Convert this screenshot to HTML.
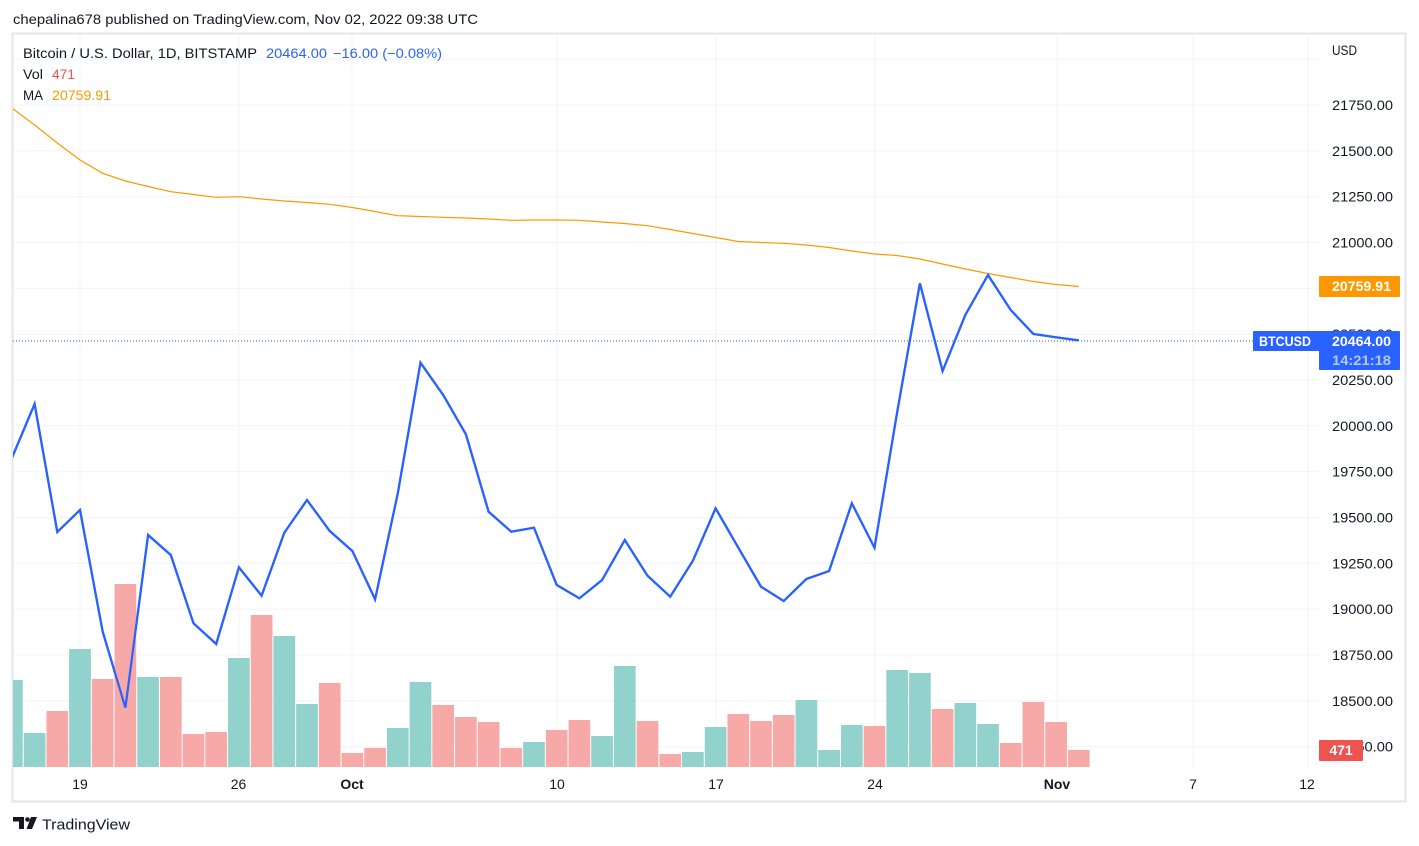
<!DOCTYPE html>
<html><head><meta charset="utf-8"><style>
html,body{margin:0;padding:0;background:#fff;}
svg{display:block;font-family:"Liberation Sans",Arial,sans-serif;}
</style></head><body>
<svg width="1419" height="846" viewBox="0 0 1419 846" xmlns="http://www.w3.org/2000/svg">
<rect x="0" y="0" width="1419" height="846" fill="#fff"/>
<text x="13" y="24" font-size="14" fill="#131722" textLength="465" lengthAdjust="spacingAndGlyphs">chepalina678 published on TradingView.com, Nov 02, 2022 09:38 UTC</text>
<rect x="12.5" y="33.5" width="1393" height="768" fill="#fff" stroke="#e4e6ed" stroke-width="2"/>
<defs><clipPath id="pane"><rect x="13" y="34" width="1305" height="733"/></clipPath></defs>
<g stroke="#f0f3fa" stroke-width="1">
<line x1="13" y1="59.2" x2="1318" y2="59.2"/>
<line x1="13" y1="105" x2="1318" y2="105"/>
<line x1="13" y1="150.8" x2="1318" y2="150.8"/>
<line x1="13" y1="196.7" x2="1318" y2="196.7"/>
<line x1="13" y1="242.5" x2="1318" y2="242.5"/>
<line x1="13" y1="288.3" x2="1318" y2="288.3"/>
<line x1="13" y1="334.2" x2="1318" y2="334.2"/>
<line x1="13" y1="380" x2="1318" y2="380"/>
<line x1="13" y1="425.8" x2="1318" y2="425.8"/>
<line x1="13" y1="471.7" x2="1318" y2="471.7"/>
<line x1="13" y1="517.5" x2="1318" y2="517.5"/>
<line x1="13" y1="563.3" x2="1318" y2="563.3"/>
<line x1="13" y1="609.2" x2="1318" y2="609.2"/>
<line x1="13" y1="655" x2="1318" y2="655"/>
<line x1="13" y1="700.8" x2="1318" y2="700.8"/>
<line x1="13" y1="746.7" x2="1318" y2="746.7"/>
<line x1="80" y1="34" x2="80" y2="767"/>
<line x1="239" y1="34" x2="239" y2="767"/>
<line x1="352" y1="34" x2="352" y2="767"/>
<line x1="557" y1="34" x2="557" y2="767"/>
<line x1="716" y1="34" x2="716" y2="767"/>
<line x1="875" y1="34" x2="875" y2="767"/>
<line x1="1057" y1="34" x2="1057" y2="767"/>
<line x1="1193" y1="34" x2="1193" y2="767"/>
<line x1="1308" y1="34" x2="1308" y2="767"/>
</g>
<g clip-path="url(#pane)" id="vol"></g>
<g clip-path="url(#pane)">
<line x1="13" y1="341" x2="1253" y2="341" stroke="#2962ff" stroke-width="1" stroke-dasharray="1 2"/>
<polyline fill="none" stroke="#ff9800" stroke-width="1.2" stroke-linejoin="round" points="11.9,108 34.6,125 57.3,143 80,160 102.7,173.3 125.4,181 148.1,186.5 170.8,191.7 193.5,194.5 216.2,197.3 238.9,196.7 261.6,199 284.3,201 307,202.5 329.7,204.3 352.4,207.5 375.1,211.5 397.8,215.7 420.5,216.5 443.2,217.3 465.9,218 488.6,219 511.3,220.3 534,220 556.7,220 579.4,220.3 602.1,222 624.8,223.5 647.5,225.7 670.2,229.5 692.9,233.5 715.6,237.5 738.3,241.5 761,242.5 783.7,243.3 806.4,245 829.1,247.5 851.8,251 874.5,254 897.2,255.5 919.9,259 942.6,264 965.3,269 988,273.5 1010.7,277.5 1033.4,281.5 1056.1,284.5 1078.8,286.5"/>
<polyline fill="none" stroke="#2962ff" stroke-width="2.2" stroke-linejoin="miter" points="11.9,458 34.6,404 57.3,532 80,510 102.7,631.7 125.4,707.7 148.1,535 170.8,555 193.5,623.3 216.2,644 238.9,567.3 261.6,595.7 284.3,532.7 307,500 329.7,531 352.4,551 375.1,599.3 397.8,493.3 420.5,362.7 443.2,395 465.9,434.3 488.6,511.7 511.3,531.7 534,527.7 556.7,585 579.4,598.3 602.1,580 624.8,540 647.5,575.7 670.2,596.7 692.9,560.7 715.6,508.3 738.3,547.7 761,586.7 783.7,601 806.4,579 829.1,571 851.8,503.3 874.5,547.7 897.2,412 919.9,283.3 942.6,371 965.3,315 988,275 1010.7,310 1033.4,334 1056.1,337.3 1078.8,340.3"/>
</g>
<g font-size="13.5" fill="#131722">
<text x="23" y="58" textLength="234" lengthAdjust="spacingAndGlyphs">Bitcoin / U.S. Dollar, 1D, BITSTAMP</text>
<text x="266" y="58" fill="#2962ff" textLength="61" lengthAdjust="spacingAndGlyphs">20464.00</text>
<text x="333" y="58" fill="#2962ff" textLength="109" lengthAdjust="spacingAndGlyphs">−16.00 (−0.08%)</text>
<text x="23" y="79" textLength="20" lengthAdjust="spacingAndGlyphs">Vol</text>
<text x="52" y="79" fill="#ef5350" textLength="23" lengthAdjust="spacingAndGlyphs">471</text>
<text x="23" y="100" textLength="20" lengthAdjust="spacingAndGlyphs">MA</text>
<text x="52" y="100" fill="#ff9800" textLength="59" lengthAdjust="spacingAndGlyphs">20759.91</text>
</g>
<g font-size="14" fill="#131722" text-anchor="end">
<text x="1357" y="55" textLength="25" lengthAdjust="spacingAndGlyphs">USD</text>
<text x="1393" y="110" textLength="61" lengthAdjust="spacingAndGlyphs">21750.00</text>
<text x="1393" y="155.8" textLength="61" lengthAdjust="spacingAndGlyphs">21500.00</text>
<text x="1393" y="201.7" textLength="61" lengthAdjust="spacingAndGlyphs">21250.00</text>
<text x="1393" y="247.5" textLength="61" lengthAdjust="spacingAndGlyphs">21000.00</text>
<text x="1393" y="339.2" textLength="61" lengthAdjust="spacingAndGlyphs">20500.00</text>
<text x="1393" y="385" textLength="61" lengthAdjust="spacingAndGlyphs">20250.00</text>
<text x="1393" y="430.8" textLength="61" lengthAdjust="spacingAndGlyphs">20000.00</text>
<text x="1393" y="476.7" textLength="61" lengthAdjust="spacingAndGlyphs">19750.00</text>
<text x="1393" y="522.5" textLength="61" lengthAdjust="spacingAndGlyphs">19500.00</text>
<text x="1393" y="568.3" textLength="61" lengthAdjust="spacingAndGlyphs">19250.00</text>
<text x="1393" y="614.2" textLength="61" lengthAdjust="spacingAndGlyphs">19000.00</text>
<text x="1393" y="660" textLength="61" lengthAdjust="spacingAndGlyphs">18750.00</text>
<text x="1393" y="705.8" textLength="61" lengthAdjust="spacingAndGlyphs">18500.00</text>
<text x="1393" y="751.7" textLength="61" lengthAdjust="spacingAndGlyphs">18250.00</text>
</g>
<rect x="1319" y="276" width="81" height="21" rx="1" fill="#ff9800"/>
<text x="1391" y="291" font-size="14" font-weight="bold" fill="#fff" text-anchor="end" textLength="59" lengthAdjust="spacingAndGlyphs">20759.91</text>
<rect x="1253" y="331" width="70" height="20" rx="1" fill="#2962ff"/>
<rect x="1319" y="331" width="81" height="39" rx="1" fill="#2962ff"/>
<text x="1259" y="346" font-size="14" font-weight="bold" fill="#fff" textLength="52" lengthAdjust="spacingAndGlyphs">BTCUSD</text>
<text x="1391" y="346" font-size="14" font-weight="bold" fill="#fff" text-anchor="end" textLength="59" lengthAdjust="spacingAndGlyphs">20464.00</text>
<text x="1391" y="365" font-size="14" font-weight="bold" fill="#b4c8ff" text-anchor="end" textLength="59" lengthAdjust="spacingAndGlyphs">14:21:18</text>
<rect x="1319" y="740" width="44" height="21" rx="1" fill="#ef5350"/>
<text x="1341" y="755" font-size="14" font-weight="bold" fill="#fff" text-anchor="middle">471</text>
<g font-size="14" fill="#131722" text-anchor="middle">
<text x="80" y="789">19</text>
<text x="238.5" y="789">26</text>
<text x="352" y="789" font-weight="bold">Oct</text>
<text x="557" y="789">10</text>
<text x="716" y="789">17</text>
<text x="875" y="789">24</text>
<text x="1057" y="789" font-weight="bold">Nov</text>
<text x="1193" y="789">7</text>
<text x="1307" y="789">12</text>
</g>
<g fill="#131722">
<path d="M13 817 H24 V829 H19 V821.5 H13 Z"/>
<circle cx="27.5" cy="819.5" r="2.3"/>
<path d="M31 817 H37 L32 829 H26.5 Z"/>
</g>
<text x="42" y="829.5" font-size="15" fill="#131722" textLength="88" lengthAdjust="spacingAndGlyphs">TradingView</text>
<g clip-path="url(#pane)">
<rect x="1.05" y="680" width="21.7" height="87" fill="#92d2cc"/>
<rect x="23.75" y="733" width="21.7" height="34" fill="#92d2cc"/>
<rect x="46.45" y="711" width="21.7" height="56" fill="#f7a9a7"/>
<rect x="69.15" y="649" width="21.7" height="118" fill="#92d2cc"/>
<rect x="91.85" y="679" width="21.7" height="88" fill="#f7a9a7"/>
<rect x="114.55" y="584" width="21.7" height="183" fill="#f7a9a7"/>
<rect x="137.25" y="677" width="21.7" height="90" fill="#92d2cc"/>
<rect x="159.95" y="677" width="21.7" height="90" fill="#f7a9a7"/>
<rect x="182.65" y="734" width="21.7" height="33" fill="#f7a9a7"/>
<rect x="205.35" y="732" width="21.7" height="35" fill="#f7a9a7"/>
<rect x="228.05" y="658" width="21.7" height="109" fill="#92d2cc"/>
<rect x="250.75" y="615" width="21.7" height="152" fill="#f7a9a7"/>
<rect x="273.45" y="636" width="21.7" height="131" fill="#92d2cc"/>
<rect x="296.15" y="704" width="21.7" height="63" fill="#92d2cc"/>
<rect x="318.85" y="683" width="21.7" height="84" fill="#f7a9a7"/>
<rect x="341.55" y="753" width="21.7" height="14" fill="#f7a9a7"/>
<rect x="364.25" y="748" width="21.7" height="19" fill="#f7a9a7"/>
<rect x="386.95" y="728" width="21.7" height="39" fill="#92d2cc"/>
<rect x="409.65" y="682" width="21.7" height="85" fill="#92d2cc"/>
<rect x="432.35" y="705" width="21.7" height="62" fill="#f7a9a7"/>
<rect x="455.05" y="717" width="21.7" height="50" fill="#f7a9a7"/>
<rect x="477.75" y="722" width="21.7" height="45" fill="#f7a9a7"/>
<rect x="500.45" y="748" width="21.7" height="19" fill="#f7a9a7"/>
<rect x="523.15" y="742" width="21.7" height="25" fill="#92d2cc"/>
<rect x="545.85" y="730" width="21.7" height="37" fill="#f7a9a7"/>
<rect x="568.55" y="720" width="21.7" height="47" fill="#f7a9a7"/>
<rect x="591.25" y="736" width="21.7" height="31" fill="#92d2cc"/>
<rect x="613.95" y="666" width="21.7" height="101" fill="#92d2cc"/>
<rect x="636.65" y="721" width="21.7" height="46" fill="#f7a9a7"/>
<rect x="659.35" y="754" width="21.7" height="13" fill="#f7a9a7"/>
<rect x="682.05" y="752" width="21.7" height="15" fill="#92d2cc"/>
<rect x="704.75" y="727" width="21.7" height="40" fill="#92d2cc"/>
<rect x="727.45" y="714" width="21.7" height="53" fill="#f7a9a7"/>
<rect x="750.15" y="721" width="21.7" height="46" fill="#f7a9a7"/>
<rect x="772.85" y="715" width="21.7" height="52" fill="#f7a9a7"/>
<rect x="795.55" y="700" width="21.7" height="67" fill="#92d2cc"/>
<rect x="818.25" y="750" width="21.7" height="17" fill="#92d2cc"/>
<rect x="840.95" y="725" width="21.7" height="42" fill="#92d2cc"/>
<rect x="863.65" y="726" width="21.7" height="41" fill="#f7a9a7"/>
<rect x="886.35" y="670" width="21.7" height="97" fill="#92d2cc"/>
<rect x="909.05" y="673" width="21.7" height="94" fill="#92d2cc"/>
<rect x="931.75" y="709" width="21.7" height="58" fill="#f7a9a7"/>
<rect x="954.45" y="703" width="21.7" height="64" fill="#92d2cc"/>
<rect x="977.15" y="724" width="21.7" height="43" fill="#92d2cc"/>
<rect x="999.85" y="743" width="21.7" height="24" fill="#f7a9a7"/>
<rect x="1022.55" y="702" width="21.7" height="65" fill="#f7a9a7"/>
<rect x="1045.25" y="722" width="21.7" height="45" fill="#f7a9a7"/>
<rect x="1067.95" y="750" width="21.7" height="17" fill="#f7a9a7"/>
</g>
<g clip-path="url(#pane)">
<polyline fill="none" stroke="#2962ff" stroke-width="2.2" stroke-linejoin="miter" points="11.9,458 34.6,404 57.3,532 80,510 102.7,631.7 125.4,707.7 148.1,535 170.8,555 193.5,623.3 216.2,644 238.9,567.3 261.6,595.7 284.3,532.7 307,500 329.7,531 352.4,551 375.1,599.3 397.8,493.3 420.5,362.7 443.2,395 465.9,434.3 488.6,511.7 511.3,531.7 534,527.7 556.7,585 579.4,598.3 602.1,580 624.8,540 647.5,575.7 670.2,596.7 692.9,560.7 715.6,508.3 738.3,547.7 761,586.7 783.7,601 806.4,579 829.1,571 851.8,503.3 874.5,547.7 897.2,412 919.9,283.3 942.6,371 965.3,315 988,275 1010.7,310 1033.4,334 1056.1,337.3 1078.8,340.3"/>
</g>
</svg>
</body></html>
